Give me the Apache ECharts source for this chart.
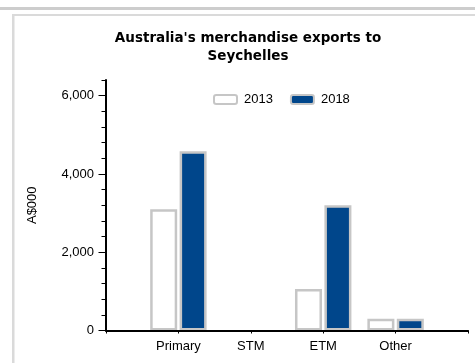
<!DOCTYPE html>
<html>
<head>
<meta charset="utf-8">
<script src="https://cdn.jsdelivr.net/npm/echarts@6/dist/echarts.min.js"></script>
<style>
  html, body { margin: 0; padding: 0; background: #fff; }
  #chart { width: 475px; height: 363px; }
</style>
</head>
<body>
<div id="chart"></div>
<script>
// Export categories (padded with empty slots at both ends of the axis)
const categories = ['', 'Primary', 'STM', 'ETM', 'Other', ''];
const seriesNames = ['2013', '2018'];
// A$000
const exports2013 = [null, 3100, 0, 1060, 300, null];
const exports2018 = [null, 4580, 0, 3200, 300, null];
const yLabelValues = [0, 2000, 4000, 6000];
const yMinorTickValues = [0, 400, 800, 1200, 1600, 2000, 2400, 2800, 3200, 3600, 4000, 4400, 4800, 5200, 5600, 6000, 6400];

const chart = echarts.init(document.getElementById('chart'), null, { renderer: 'canvas' });

const barBorder = '#c6c6c6';
const fontLabel = '"Liberation Sans", Arial, sans-serif';

// zero-value bars get no outline so nothing shows on the baseline
function barItems(values) {
  return values.map(v => (v === 0 ? { value: 0, itemStyle: { borderWidth: 0 } } : v));
}

chart.setOption({
  animation: false,
  backgroundColor: '#fff',
  title: {
    text: "Australia's merchandise exports to\nSeychelles",
    left: 248,
    textAlign: 'center',
    top: 29,
    padding: 0,
    textStyle: {
      fontFamily: '"DejaVu Sans", Verdana, sans-serif',
      fontWeight: 'bold',
      fontSize: 13.5,
      lineHeight: 18,
      color: '#000'
    }
  },
  legend: {
    data: seriesNames,
    left: 208,
    top: 88,
    itemWidth: 23,
    itemHeight: 9,
    itemGap: 17,
    textStyle: { fontFamily: fontLabel, fontSize: 13, color: '#000', padding: [0, 0, 0, 2] }
  },
  graphic: [
    { type: 'rect', shape: { x: 0, y: 7, width: 475, height: 3 }, style: { fill: '#cdcdcd' }, silent: true },
    { type: 'rect', shape: { x: 12, y: 14, width: 463, height: 2 }, style: { fill: '#dadada' }, silent: true },
    { type: 'rect', shape: { x: 12, y: 14, width: 2.5, height: 349 }, style: { fill: '#dadada' }, silent: true }
  ],
  grid: { left: 106, right: 7, top: 80, bottom: 32.5, containLabel: false },
  xAxis: {
    type: 'category',
    data: categories,
    boundaryGap: false,
    z: 5,
    axisLine: { lineStyle: { color: '#000', width: 2 } },
    axisTick: { length: 3, lineStyle: { color: '#000', width: 1 } },
    axisLabel: { fontFamily: fontLabel, fontSize: 13, color: '#000', margin: 9 },
    splitLine: { show: false }
  },
  yAxis: [
    {
      type: 'value',
      min: 0,
      max: 6400,
      interval: 400,
      position: 'left',
      name: 'A$000',
      nameLocation: 'middle',
      nameGap: 67,
      nameRotate: 90,
      nameTextStyle: { fontFamily: fontLabel, fontSize: 13, color: '#000' },
      z: 5,
      axisLine: { show: true, lineStyle: { color: '#000', width: 2 } },
      axisTick: { show: true, length: 4.5, customValues: yMinorTickValues, lineStyle: { color: '#000', width: 1 } },
      axisLabel: {
        customValues: yLabelValues,
        fontFamily: fontLabel, fontSize: 13, color: '#000', margin: 12,
        formatter: v => v.toLocaleString('en-US')
      },
      splitLine: { show: false }
    },
    {
      type: 'value',
      min: 0,
      max: 6400,
      interval: 400,
      position: 'left',
      z: 5,
      axisLine: { show: false },
      axisTick: { show: true, length: 7.5, customValues: yLabelValues, lineStyle: { color: '#000', width: 1 } },
      axisLabel: { show: false },
      splitLine: { show: false }
    }
  ],
  series: [
    {
      name: seriesNames[0],
      type: 'bar',
      data: barItems(exports2013),
      barWidth: 27,
      barGap: '9%',
      itemStyle: { color: '#ffffff', borderColor: barBorder, borderWidth: 2.5 }
    },
    {
      name: seriesNames[1],
      type: 'bar',
      data: barItems(exports2018),
      barWidth: 27,
      barGap: '9%',
      itemStyle: { color: '#00468b', borderColor: barBorder, borderWidth: 2.5 }
    }
  ]
});
</script>
</body>
</html>
